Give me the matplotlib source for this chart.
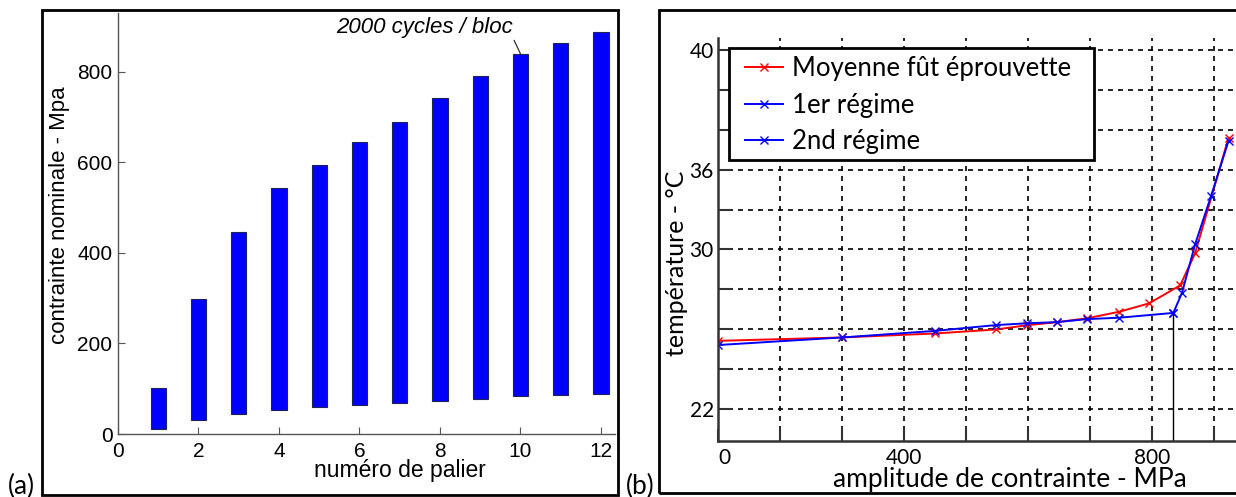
import matplotlib.pyplot as plt
from matplotlib.patches import Rectangle
from matplotlib.legend_handler import HandlerLine2D

W, H = 1236, 497

# (a) paliers de chargement
paliers = [1, 2, 3, 4, 5, 6, 7, 8, 9, 10, 11, 12]
sigma_max = [101, 298, 447, 543, 595, 644, 690, 743, 791, 840, 863, 888]
sigma_min = [10, 30, 45, 54, 60, 63, 69, 74, 78, 83, 86, 88]

# (b) temperature vs amplitude
amp_moy = [100, 300, 450, 548, 598, 647, 695, 747, 795, 845, 869, 923]
temp_moy = [25.42, 25.59, 25.79, 25.99, 26.20, 26.36, 26.55, 26.88, 27.30, 28.20, 29.80, 35.60]
amp_r1 = [100, 300, 450, 548, 598, 647, 695, 747, 834]
temp_r1 = [25.21, 25.59, 25.92, 26.21, 26.30, 26.36, 26.51, 26.58, 26.82]
amp_r2 = [834, 848, 869, 895, 923]
temp_r2 = [26.82, 27.83, 30.25, 32.70, 35.45]

xticks_b = [100, 200, 300, 400, 500, 600, 700, 800, 900]
xlabels_b = ['0', '', '', '400', '', '', '', '800', '']
yticks_b = [22, 24, 26, 28, 30, 32, 34, 36, 38, 40]
ylabels_b = ['22', '', '', '', '30', '', '36', '', '', '40']

sans_a = ['Liberation Sans', 'DejaVu Sans']
sans_b = ['Lato', 'DejaVu Sans']


def fx(x):
    return x / W


def fy(y):
    return 1 - y / H


class EndMarker(HandlerLine2D):
    # short line ending with the marker, like the matlab legend
    def get_xdata(self, legend, xdescent, ydescent, width, height, fontsize):
        x0 = -xdescent + 0.17 * width
        x1 = -xdescent + width
        return [x0, x1], [x1]


fig = plt.figure(figsize=(W / 100, H / 100), dpi=100)

# ---------------- panel (a) ----------------
ax1 = fig.add_axes([fx(118), fy(434), fx(615) - fx(118), fy(13) - fy(434)])
heights = [t - b for t, b in zip(sigma_max, sigma_min)]
ax1.bar(paliers, heights, bottom=sigma_min, width=0.38, color='#0000ff',
        edgecolor='#20205a', linewidth=0.8)
ax1.set_xlim(0, 12.35)
ax1.set_ylim(0, 930)
ax1.set_xticks(range(0, 13, 2))
ax1.set_yticks(range(0, 801, 200))
for s in ['top', 'right']:
    ax1.spines[s].set_visible(False)
for s in ['left', 'bottom']:
    ax1.spines[s].set_color('#555555')
    ax1.spines[s].set_linewidth(1)
ax1.tick_params(direction='in', length=5, color='#555555', labelsize=15)
ax1.tick_params(axis='x', pad=6)
ax1.tick_params(axis='y', pad=4)
for lab in ax1.get_xticklabels() + ax1.get_yticklabels():
    lab.set_family(sans_a)
ax1.annotate('2000 cycles / bloc', xy=(10, sigma_max[9]), xytext=(9.81, 899),
             ha='right', va='center', fontsize=16, style='italic', family=sans_a,
             arrowprops=dict(arrowstyle='-', color='#333333', lw=0.9,
                             shrinkA=0, shrinkB=0, relpos=(1, 0)))
fig.text(fx(60), fy(215), 'contrainte nominale - Mpa', rotation=90, ha='center',
         va='center', fontsize=16, family=sans_a)
fig.text(fx(400), fy(471), 'numéro de palier', ha='center', va='center',
         fontsize=16.5, family=sans_a)

# ---------------- panel (b) ----------------
ax2 = fig.add_axes([fx(718), fy(441), fx(1236) - fx(718), fy(38) - fy(441)])
ax2.plot(amp_moy, temp_moy, '-x', color='red', lw=1.4, ms=6, mew=1,
         label='Moyenne fût éprouvette')
ax2.plot(amp_r1, temp_r1, '-x', color='blue', lw=1.4, ms=6, mew=1,
         label='1er régime')
ax2.plot(amp_r2, temp_r2, '-x', color='blue', lw=1.4, ms=6, mew=1,
         label='2nd régime')
ax2.set_xlim(100, 935)
ax2.set_ylim(20.4, 40.6)
ax2.vlines(amp_r1[-1], 20.4, temp_r1[-1], color='black', lw=1)
ax2.set_xticks(xticks_b)
ax2.set_xticklabels(xlabels_b)
ax2.set_yticks(yticks_b)
ax2.set_yticklabels(ylabels_b)
ax2.grid(True, color='black', linestyle=(0, (3, 3)), linewidth=1.2)
ax2.set_axisbelow(True)
for s in ['top', 'right']:
    ax2.spines[s].set_visible(False)
for s in ['left', 'bottom']:
    ax2.spines[s].set_color('#333333')
    ax2.spines[s].set_linewidth(1.8)
ax2.tick_params(direction='in', length=9, width=1.5, color='#333333', labelsize=15)
ax2.tick_params(axis='x', pad=5)
ax2.tick_params(axis='y', pad=3)
for lab in ax2.get_xticklabels() + ax2.get_yticklabels():
    lab.set_family(sans_b)
ax2.get_xticklabels()[0].set_horizontalalignment('left')

# legend: frame drawn separately so its size matches the original box
leg = ax2.legend(loc='upper left', bbox_to_anchor=(fx(737), fy(56)),
                 bbox_transform=fig.transFigure, borderaxespad=0,
                 prop={'family': sans_b, 'size': 18.5}, handlelength=1.78,
                 handletextpad=0.36, labelspacing=0.45, borderpad=0,
                 frameon=False, handler_map={plt.Line2D: EndMarker()})
ax2.add_artist(Rectangle((fx(729), fy(160)), fx(1094) - fx(729), fy(48) - fy(160),
                         transform=fig.transFigure, facecolor='white',
                         edgecolor='black', lw=2, zorder=4.9))
leg.set_zorder(5)

fig.text(fx(677), fy(263), 'température - °C', rotation=90, ha='center',
         va='center', fontsize=18, family=sans_b)
fig.text(fx(1010), fy(480), 'amplitude de contrainte - MPa', ha='center',
         va='center', fontsize=19, family=sans_b)

# frames and panel letters
fig.add_artist(Rectangle((fx(42), fy(495)), fx(618) - fx(42), fy(10) - fy(495),
                         transform=fig.transFigure, fill=False, lw=2, ec='black'))
fig.add_artist(Rectangle((fx(659), fy(493)), fx(1245) - fx(659), fy(10) - fy(493),
                         transform=fig.transFigure, fill=False, lw=2, ec='black'))
fig.text(fx(21), fy(486), '(a)', ha='center', va='center', fontsize=19, family=sans_b)
fig.text(fx(640), fy(486), '(b)', ha='center', va='center', fontsize=19, family=sans_b)

fig.savefig('out.png', dpi=100)
